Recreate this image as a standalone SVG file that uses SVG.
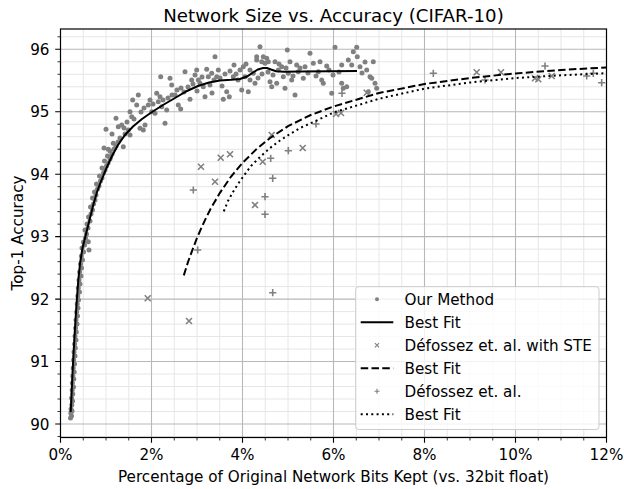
<svg xmlns="http://www.w3.org/2000/svg" xmlns:xlink="http://www.w3.org/1999/xlink" width="624" height="489" viewBox="0 0 624 489">
<style>
text{font-family:"DejaVu Sans","Liberation Sans",sans-serif;fill:#000}
.t{font-size:15.2px}
.ti{font-size:18.2px}
.gmin{stroke:#e6e6e6;stroke-width:1;fill:none}
.gmaj{stroke:#b8b8b8;stroke-width:1.1;fill:none}
.tk{stroke:#000;stroke-width:1.1;fill:none}
.tkm{stroke:#000;stroke-width:0.8;fill:none}
.d{fill:#808080}
.mk{stroke:#808080;stroke-width:1.6;fill:none}
.fit{fill:none;stroke:#000;stroke-width:2}
</style>
<defs>
<path id="mx" d="M-3,-3L3,3M-3,3L3,-3"/>
<path id="mp" d="M-3.6,0H3.6M0,-3.6V3.6"/>
<clipPath id="ax"><rect x="60.5" y="29" width="546" height="408.5"/></clipPath>
</defs>
<rect width="624" height="489" fill="#fff"/>
<g id="grid">
<path class="gmin" d="M83.25 29V437.5M106 29V437.5M128.75 29V437.5M174.25 29V437.5M197 29V437.5M219.75 29V437.5M265.25 29V437.5M288 29V437.5M310.75 29V437.5M356.25 29V437.5M379 29V437.5M401.75 29V437.5M447.25 29V437.5M470 29V437.5M492.75 29V437.5M538.25 29V437.5M561 29V437.5M583.75 29V437.5"/>
<path class="gmin" d="M60.5 436.49H606.5M60.5 411.51H606.5M60.5 399.02H606.5M60.5 386.53H606.5M60.5 374.04H606.5M60.5 349.06H606.5M60.5 336.57H606.5M60.5 324.08H606.5M60.5 311.59H606.5M60.5 286.61H606.5M60.5 274.12H606.5M60.5 261.63H606.5M60.5 249.14H606.5M60.5 224.16H606.5M60.5 211.67H606.5M60.5 199.18H606.5M60.5 186.69H606.5M60.5 161.71H606.5M60.5 149.22H606.5M60.5 136.73H606.5M60.5 124.24H606.5M60.5 99.26H606.5M60.5 86.77H606.5M60.5 74.28H606.5M60.5 61.79H606.5M60.5 36.81H606.5"/>
<path class="gmaj" d="M151.5 29V437.5M242.5 29V437.5M333.5 29V437.5M424.5 29V437.5M515.5 29V437.5"/>
<path class="gmaj" d="M60.5 424H606.5M60.5 361.55H606.5M60.5 299.1H606.5M60.5 236.65H606.5M60.5 174.2H606.5M60.5 111.75H606.5M60.5 49.3H606.5"/>
</g>
<g id="our-method" clip-path="url(#ax)">
<circle class="d" r="2.5" cx="70.5" cy="418"/><circle class="d" r="2.5" cx="71.5" cy="416"/><circle class="d" r="2.5" cx="70.8" cy="413"/><circle class="d" r="2.5" cx="72" cy="411"/><circle class="d" r="2.5" cx="71" cy="409"/><circle class="d" r="2.5" cx="71.8" cy="405"/><circle class="d" r="2.5" cx="72.5" cy="401"/><circle class="d" r="2.5" cx="71.6" cy="398"/><circle class="d" r="2.5" cx="72.8" cy="394"/><circle class="d" r="2.5" cx="72.2" cy="390"/><circle class="d" r="2.5" cx="73.5" cy="387"/><circle class="d" r="2.5" cx="72.4" cy="383"/><circle class="d" r="2.5" cx="73.8" cy="379"/><circle class="d" r="2.5" cx="72.8" cy="376"/><circle class="d" r="2.5" cx="74.2" cy="372"/><circle class="d" r="2.5" cx="73.2" cy="368"/><circle class="d" r="2.5" cx="74.5" cy="364"/><circle class="d" r="2.5" cx="73.6" cy="360"/><circle class="d" r="2.5" cx="75" cy="356"/><circle class="d" r="2.5" cx="74" cy="352"/><circle class="d" r="2.5" cx="75.3" cy="348"/><circle class="d" r="2.5" cx="74.6" cy="344"/><circle class="d" r="2.5" cx="76" cy="340"/><circle class="d" r="2.5" cx="75" cy="336"/><circle class="d" r="2.5" cx="76.3" cy="332"/><circle class="d" r="2.5" cx="75.6" cy="328"/><circle class="d" r="2.5" cx="77" cy="324"/><circle class="d" r="2.5" cx="76" cy="320"/><circle class="d" r="2.5" cx="77.5" cy="316"/><circle class="d" r="2.5" cx="76.6" cy="312"/><circle class="d" r="2.5" cx="78" cy="308"/><circle class="d" r="2.5" cx="77.2" cy="304"/><circle class="d" r="2.5" cx="78.5" cy="300"/><circle class="d" r="2.5" cx="77.8" cy="296"/><circle class="d" r="2.5" cx="79.5" cy="292"/><circle class="d" r="2.5" cx="78.3" cy="288"/><circle class="d" r="2.5" cx="80" cy="284"/><circle class="d" r="2.5" cx="79" cy="280"/><circle class="d" r="2.5" cx="81" cy="276"/><circle class="d" r="2.5" cx="79.6" cy="272"/><circle class="d" r="2.5" cx="81.5" cy="268"/><circle class="d" r="2.5" cx="80.5" cy="264"/><circle class="d" r="2.5" cx="82.5" cy="260"/><circle class="d" r="2.5" cx="81.4" cy="256"/><circle class="d" r="2.5" cx="83.5" cy="252"/><circle class="d" r="2.5" cx="82" cy="248"/><circle class="d" r="2.5" cx="84.5" cy="245"/><circle class="d" r="2.5" cx="89" cy="250"/><circle class="d" r="2.5" cx="88.3" cy="241.7"/><circle class="d" r="2.5" cx="83.5" cy="242"/><circle class="d" r="2.5" cx="85.5" cy="238"/><circle class="d" r="2.5" cx="86.5" cy="234"/><circle class="d" r="2.5" cx="85" cy="230"/><circle class="d" r="2.5" cx="88" cy="228"/><circle class="d" r="2.5" cx="87" cy="224"/><circle class="d" r="2.5" cx="90" cy="221"/><circle class="d" r="2.5" cx="88.5" cy="217"/><circle class="d" r="2.5" cx="91" cy="214"/><circle class="d" r="2.5" cx="92.5" cy="210"/><circle class="d" r="2.5" cx="90.5" cy="207"/><circle class="d" r="2.5" cx="93.5" cy="204"/><circle class="d" r="2.5" cx="95" cy="200"/><circle class="d" r="2.5" cx="92.5" cy="198"/><circle class="d" r="2.5" cx="96" cy="195"/><circle class="d" r="2.5" cx="94.5" cy="192"/><circle class="d" r="2.5" cx="97.5" cy="189"/><circle class="d" r="2.5" cx="99" cy="186"/><circle class="d" r="2.5" cx="96.5" cy="184"/><circle class="d" r="2.5" cx="100.5" cy="181"/><circle class="d" r="2.5" cx="102" cy="178"/><circle class="d" r="2.5" cx="99.5" cy="176"/><circle class="d" r="2.5" cx="103.5" cy="173"/><circle class="d" r="2.5" cx="105" cy="170"/><circle class="d" r="2.5" cx="102" cy="168"/><circle class="d" r="2.5" cx="106.5" cy="166"/><circle class="d" r="2.5" cx="108" cy="163"/><circle class="d" r="2.5" cx="104.5" cy="161"/><circle class="d" r="2.5" cx="110" cy="159"/><circle class="d" r="2.5" cx="107.5" cy="156"/><circle class="d" r="2.5" cx="112" cy="154"/><circle class="d" r="2.5" cx="110" cy="151"/><circle class="d" r="2.5" cx="114" cy="149"/><circle class="d" r="2.5" cx="104" cy="148"/><circle class="d" r="2.5" cx="108.3" cy="149.3"/><circle class="d" r="2.5" cx="110.7" cy="156.7"/><circle class="d" r="2.5" cx="113.3" cy="143.3"/><circle class="d" r="2.5" cx="116" cy="146"/><circle class="d" r="2.5" cx="118" cy="142"/><circle class="d" r="2.5" cx="120" cy="138"/><circle class="d" r="2.5" cx="123.3" cy="146.7"/><circle class="d" r="2.5" cx="121.7" cy="125"/><circle class="d" r="2.5" cx="118.3" cy="126.7"/><circle class="d" r="2.5" cx="116" cy="118.3"/><circle class="d" r="2.5" cx="106" cy="129.3"/><circle class="d" r="2.5" cx="112" cy="134"/><circle class="d" r="2.5" cx="125" cy="134"/><circle class="d" r="2.5" cx="128.3" cy="130"/><circle class="d" r="2.5" cx="130" cy="135"/><circle class="d" r="2.5" cx="124" cy="128"/><circle class="d" r="2.5" cx="127" cy="122"/><circle class="d" r="2.5" cx="131.7" cy="116.7"/><circle class="d" r="2.5" cx="130" cy="111.7"/><circle class="d" r="2.5" cx="132.7" cy="100"/><circle class="d" r="2.5" cx="134" cy="119"/><circle class="d" r="2.5" cx="136.7" cy="105"/><circle class="d" r="2.5" cx="138.3" cy="95"/><circle class="d" r="2.5" cx="140" cy="128.3"/><circle class="d" r="2.5" cx="143.3" cy="130"/><circle class="d" r="2.5" cx="145" cy="125"/><circle class="d" r="2.5" cx="141" cy="112"/><circle class="d" r="2.5" cx="144" cy="108"/><circle class="d" r="2.5" cx="148.3" cy="105"/><circle class="d" r="2.5" cx="151.7" cy="111.7"/><circle class="d" r="2.5" cx="155" cy="113.3"/><circle class="d" r="2.5" cx="150" cy="100"/><circle class="d" r="2.5" cx="156.7" cy="93.3"/><circle class="d" r="2.5" cx="160" cy="96.7"/><circle class="d" r="2.5" cx="158.3" cy="101.7"/><circle class="d" r="2.5" cx="161.7" cy="106.7"/><circle class="d" r="2.5" cx="165" cy="123.3"/><circle class="d" r="2.5" cx="166.7" cy="110"/><circle class="d" r="2.5" cx="160.7" cy="76.7"/><circle class="d" r="2.5" cx="153" cy="104"/><circle class="d" r="2.5" cx="163" cy="100"/><circle class="d" r="2.5" cx="168" cy="98"/><circle class="d" r="2.5" cx="170" cy="78.3"/><circle class="d" r="2.5" cx="171.7" cy="85"/><circle class="d" r="2.5" cx="172" cy="95"/><circle class="d" r="2.5" cx="175" cy="95"/><circle class="d" r="2.5" cx="178.3" cy="105"/><circle class="d" r="2.5" cx="180.7" cy="109"/><circle class="d" r="2.5" cx="177" cy="90"/><circle class="d" r="2.5" cx="181" cy="88"/><circle class="d" r="2.5" cx="185" cy="71.7"/><circle class="d" r="2.5" cx="184" cy="92"/><circle class="d" r="2.5" cx="188" cy="87"/><circle class="d" r="2.5" cx="190" cy="99.3"/><circle class="d" r="2.5" cx="191.7" cy="80"/><circle class="d" r="2.5" cx="195" cy="75"/><circle class="d" r="2.5" cx="196.7" cy="70"/><circle class="d" r="2.5" cx="198.3" cy="80"/><circle class="d" r="2.5" cx="200" cy="83.3"/><circle class="d" r="2.5" cx="193" cy="84"/><circle class="d" r="2.5" cx="203.3" cy="86.7"/><circle class="d" r="2.5" cx="205" cy="96.7"/><circle class="d" r="2.5" cx="206.7" cy="69.3"/><circle class="d" r="2.5" cx="208.3" cy="76.7"/><circle class="d" r="2.5" cx="210" cy="85"/><circle class="d" r="2.5" cx="211.7" cy="73.3"/><circle class="d" r="2.5" cx="215" cy="56.7"/><circle class="d" r="2.5" cx="216.7" cy="76.7"/><circle class="d" r="2.5" cx="218.3" cy="70"/><circle class="d" r="2.5" cx="214" cy="80"/><circle class="d" r="2.5" cx="220" cy="78"/><circle class="d" r="2.5" cx="223.3" cy="99.3"/><circle class="d" r="2.5" cx="226.7" cy="91.7"/><circle class="d" r="2.5" cx="229.3" cy="96.7"/><circle class="d" r="2.5" cx="225" cy="74"/><circle class="d" r="2.5" cx="233.3" cy="76.7"/><circle class="d" r="2.5" cx="234" cy="65"/><circle class="d" r="2.5" cx="238" cy="80"/><circle class="d" r="2.5" cx="241.7" cy="90"/><circle class="d" r="2.5" cx="243.3" cy="66.7"/><circle class="d" r="2.5" cx="245" cy="76.7"/><circle class="d" r="2.5" cx="248.3" cy="91.7"/><circle class="d" r="2.5" cx="250" cy="70"/><circle class="d" r="2.5" cx="253.3" cy="73.3"/><circle class="d" r="2.5" cx="255" cy="83.3"/><circle class="d" r="2.5" cx="256.7" cy="56.7"/><circle class="d" r="2.5" cx="260" cy="46.7"/><circle class="d" r="2.5" cx="261.7" cy="61.7"/><circle class="d" r="2.5" cx="265" cy="63.3"/><circle class="d" r="2.5" cx="266.7" cy="58.3"/><circle class="d" r="2.5" cx="256.7" cy="60"/><circle class="d" r="2.5" cx="263.3" cy="56.7"/><circle class="d" r="2.5" cx="268.3" cy="61.7"/><circle class="d" r="2.5" cx="270" cy="81.7"/><circle class="d" r="2.5" cx="271.7" cy="86.7"/><circle class="d" r="2.5" cx="275" cy="61.7"/><circle class="d" r="2.5" cx="276.7" cy="83.3"/><circle class="d" r="2.5" cx="278.3" cy="70"/><circle class="d" r="2.5" cx="281.7" cy="66.7"/><circle class="d" r="2.5" cx="283.3" cy="76.7"/><circle class="d" r="2.5" cx="285" cy="88.3"/><circle class="d" r="2.5" cx="287.3" cy="50"/><circle class="d" r="2.5" cx="288.3" cy="73.3"/><circle class="d" r="2.5" cx="290" cy="61.7"/><circle class="d" r="2.5" cx="291.7" cy="80"/><circle class="d" r="2.5" cx="295" cy="95"/><circle class="d" r="2.5" cx="296.7" cy="65"/><circle class="d" r="2.5" cx="298.3" cy="71.7"/><circle class="d" r="2.5" cx="303.3" cy="78.3"/><circle class="d" r="2.5" cx="305" cy="66.7"/><circle class="d" r="2.5" cx="310" cy="53.3"/><circle class="d" r="2.5" cx="313.3" cy="63.3"/><circle class="d" r="2.5" cx="318.3" cy="71.7"/><circle class="d" r="2.5" cx="320" cy="61.7"/><circle class="d" r="2.5" cx="321.7" cy="80"/><circle class="d" r="2.5" cx="323.3" cy="83.3"/><circle class="d" r="2.5" cx="326.7" cy="66"/><circle class="d" r="2.5" cx="331.7" cy="93.3"/><circle class="d" r="2.5" cx="335" cy="47.3"/><circle class="d" r="2.5" cx="341.7" cy="65"/><circle class="d" r="2.5" cx="341.7" cy="83.3"/><circle class="d" r="2.5" cx="343.3" cy="88.3"/><circle class="d" r="2.5" cx="346.7" cy="86.7"/><circle class="d" r="2.5" cx="348.3" cy="60"/><circle class="d" r="2.5" cx="351.7" cy="65"/><circle class="d" r="2.5" cx="353.3" cy="51.7"/><circle class="d" r="2.5" cx="356.7" cy="47.3"/><circle class="d" r="2.5" cx="357.3" cy="56.7"/><circle class="d" r="2.5" cx="360" cy="66.7"/><circle class="d" r="2.5" cx="366.7" cy="70"/><circle class="d" r="2.5" cx="368.3" cy="91.7"/><circle class="d" r="2.5" cx="370" cy="76.7"/><circle class="d" r="2.5" cx="373.3" cy="61.7"/><circle class="d" r="2.5" cx="375" cy="83.3"/><circle class="d" r="2.5" cx="376.7" cy="88.3"/><circle class="d" r="2.5" cx="371.7" cy="78.3"/><circle class="d" r="2.5" cx="362" cy="73"/><circle class="d" r="2.5" cx="365" cy="62"/><circle class="d" r="2.5" cx="339" cy="72"/><circle class="d" r="2.5" cx="333" cy="75"/><circle class="d" r="2.5" cx="329" cy="70"/><circle class="d" r="2.5" cx="316" cy="76"/><circle class="d" r="2.5" cx="308" cy="73"/><circle class="d" r="2.5" cx="300" cy="68"/><circle class="d" r="2.5" cx="293" cy="76"/><circle class="d" r="2.5" cx="286" cy="68"/><circle class="d" r="2.5" cx="279" cy="64"/><circle class="d" r="2.5" cx="273" cy="75"/><circle class="d" r="2.5" cx="268" cy="72"/><circle class="d" r="2.5" cx="262" cy="74"/><circle class="d" r="2.5" cx="258" cy="78"/><circle class="d" r="2.5" cx="250" cy="80"/><circle class="d" r="2.5" cx="246" cy="64"/><circle class="d" r="2.5" cx="240" cy="70"/><circle class="d" r="2.5" cx="236" cy="74"/><circle class="d" r="2.5" cx="230" cy="71"/><circle class="d" r="2.5" cx="222" cy="86"/><circle class="d" r="2.5" cx="212" cy="93"/><circle class="d" r="2.5" cx="202" cy="77"/><circle class="d" r="2.5" cx="197" cy="91"/>
</g>
<g id="defossez-ste" class="mk">
<use href="#mx" x="147.7" y="298.3"/><use href="#mx" x="189" y="321"/><use href="#mx" x="201" y="166.7"/><use href="#mx" x="215" y="181.7"/><use href="#mx" x="220.7" y="157.7"/><use href="#mx" x="230" y="154.3"/><use href="#mx" x="255" y="205"/><use href="#mx" x="262.7" y="161.7"/><use href="#mx" x="271.7" y="135"/><use href="#mx" x="302.7" y="148"/><use href="#mx" x="336" y="114"/><use href="#mx" x="341" y="113"/><use href="#mx" x="366.7" y="92.7"/><use href="#mx" x="476.7" y="72.3"/><use href="#mx" x="501" y="72.3"/><use href="#mx" x="535" y="78.3"/><use href="#mx" x="538.3" y="79.3"/><use href="#mx" x="551.7" y="76"/>
</g>
<g id="defossez" class="mk">
<use href="#mp" x="193.3" y="190"/><use href="#mp" x="197.7" y="250"/><use href="#mp" x="265" y="196.7"/><use href="#mp" x="265" y="214.3"/><use href="#mp" x="270.7" y="158.3"/><use href="#mp" x="272.7" y="178.3"/><use href="#mp" x="272.7" y="292.7"/><use href="#mp" x="288.3" y="150.7"/><use href="#mp" x="316" y="124"/><use href="#mp" x="342" y="93.3"/><use href="#mp" x="433.3" y="73.3"/><use href="#mp" x="485" y="80"/><use href="#mp" x="545" y="66"/><use href="#mp" x="586.7" y="76"/><use href="#mp" x="593.3" y="73.3"/><use href="#mp" x="601.7" y="82.7"/>
</g>
<g id="fits" clip-path="url(#ax)">
<polyline class="fit" points="70.7,412 71.3,400 72.2,380 73.2,360 74.3,340 75.5,320 76.8,300 78.3,280 80.2,262 82.5,248 85.5,236 89,222 93,206 97,192 101.5,180 106.5,168 112,156 118,145 125,135 133,126.5 142,119 152,112 163,105 175,98 187,91 198,86 209,82.5 220,80.5 231,79.8 240,79 247,76.5 253,72.5 258,69.5 263,68 267,68 271,69.5 276,71.2 284,71.8 300,71.6 330,71.2 357,71"/>
<polyline class="fit" stroke-dasharray="7.5,3.3" points="183.8,275.4 188,262 192.45,249.9 197,238 201.55,227.5 206,218 210.65,208.8 219.75,193.1 231.1,176.5 242.5,162.9 256.15,149.4 269.8,138.2 288,126.2 310.75,115 333.5,106.5 379,93 424.5,84 470,78 515.5,73.4 561,70 606.5,67.4"/>
<polyline class="fit" stroke-dasharray="2,3.3" points="223.8,211.3 228,201 233,192 238,184 242.5,177.5 251,166 260,157 270,148 280,140.5 290,134 300,128 316.7,120.5 333.5,112.5 350,107.5 380,98.5 425,88.5 470,82.5 516,78 561,75.3 606.5,73.2"/>
</g>
<g id="axes">
<rect x="60.5" y="29" width="546" height="408.5" fill="none" stroke="#000" stroke-width="1.2"/>
<path class="tk" d="M55.2 424H60.5M55.2 361.55H60.5M55.2 299.1H60.5M55.2 236.65H60.5M55.2 174.2H60.5M55.2 111.75H60.5M55.2 49.3H60.5"/>
<path class="tkm" d="M57.5 436.49H60.5M57.5 411.51H60.5M57.5 399.02H60.5M57.5 386.53H60.5M57.5 374.04H60.5M57.5 349.06H60.5M57.5 336.57H60.5M57.5 324.08H60.5M57.5 311.59H60.5M57.5 286.61H60.5M57.5 274.12H60.5M57.5 261.63H60.5M57.5 249.14H60.5M57.5 224.16H60.5M57.5 211.67H60.5M57.5 199.18H60.5M57.5 186.69H60.5M57.5 161.71H60.5M57.5 149.22H60.5M57.5 136.73H60.5M57.5 124.24H60.5M57.5 99.26H60.5M57.5 86.77H60.5M57.5 74.28H60.5M57.5 61.79H60.5M57.5 36.81H60.5"/>
<path class="tk" d="M60.5 437.5V442.8M151.5 437.5V442.8M242.5 437.5V442.8M333.5 437.5V442.8M424.5 437.5V442.8M515.5 437.5V442.8M606.5 437.5V442.8"/>
<path class="tkm" d="M83.25 437.5V440.5M106 437.5V440.5M128.75 437.5V440.5M174.25 437.5V440.5M197 437.5V440.5M219.75 437.5V440.5M265.25 437.5V440.5M288 437.5V440.5M310.75 437.5V440.5M356.25 437.5V440.5M379 437.5V440.5M401.75 437.5V440.5M447.25 437.5V440.5M470 437.5V440.5M492.75 437.5V440.5M538.25 437.5V440.5M561 437.5V440.5M583.75 437.5V440.5"/>
<g class="t" text-anchor="end">
<text x="49.5" y="429.5">90</text><text x="49.5" y="367">91</text><text x="49.5" y="304.6">92</text><text x="49.5" y="242.2">93</text><text x="49.5" y="179.7">94</text><text x="49.5" y="117.3">95</text><text x="49.5" y="54.8">96</text>
</g>
<g class="t" text-anchor="middle">
<text x="60.5" y="459.5">0%</text><text x="151.5" y="459.5">2%</text><text x="242.5" y="459.5">4%</text><text x="333.5" y="459.5">6%</text><text x="424.5" y="459.5">8%</text><text x="515.5" y="459.5">10%</text><text x="606.5" y="459.5">12%</text>
</g>
<text class="t" x="333.5" y="482" text-anchor="middle">Percentage of Original Network Bits Kept (vs. 32bit float)</text>
<text class="t" x="22.5" y="233" text-anchor="middle" transform="rotate(-90 22.5 233)">Top-1 Accuracy</text>
<text class="ti" x="333.5" y="21.5" text-anchor="middle">Network Size vs. Accuracy (CIFAR-10)</text>
</g>
<g id="legend">
<rect x="355.7" y="286.7" width="243.3" height="142.8" rx="3" fill="#fff" fill-opacity="0.8" stroke="#cccccc" stroke-width="1"/>
<circle class="d" cx="377" cy="299.3" r="2"/>
<line class="fit" x1="360.7" y1="322.3" x2="393.3" y2="322.3"/>
<use href="#mx" x="377" y="345.3" class="mk" transform="translate(377 345.3) scale(0.7) translate(-377 -345.3)"/>
<line class="fit" stroke-dasharray="7.5,3.3" x1="360.7" y1="368.3" x2="393.3" y2="368.3"/>
<use href="#mp" x="377" y="391.3" class="mk" transform="translate(377 391.3) scale(0.7) translate(-377 -391.3)"/>
<line class="fit" stroke-dasharray="2,3.3" x1="360.7" y1="414.3" x2="393.3" y2="414.3"/>
<g class="t">
<text x="404.5" y="304.8">Our Method</text><text x="404.5" y="327.8">Best Fit</text><text x="404.5" y="350.8">Défossez et. al. with STE</text><text x="404.5" y="373.8">Best Fit</text><text x="404.5" y="396.8">Défossez et. al.</text><text x="404.5" y="419.8">Best Fit</text>
</g>
</g>
</svg>
